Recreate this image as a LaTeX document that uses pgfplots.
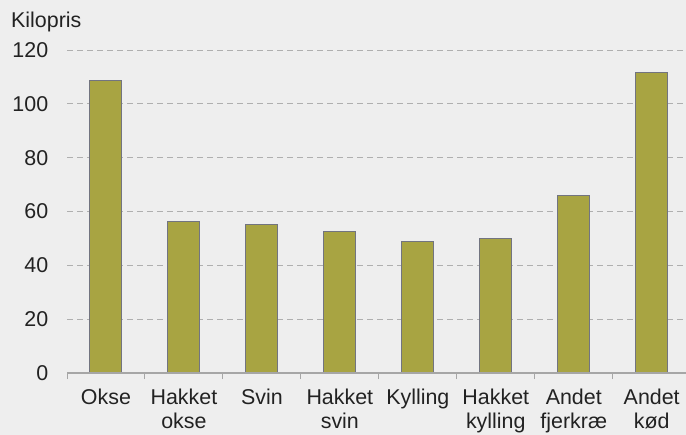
\documentclass[border=0pt]{standalone}
\usepackage{pgfplots}
\pgfplotsset{compat=1.18}
\usepackage{fontspec}
\setmainfont{Liberation Sans}
\definecolor{bgc}{HTML}{EEEEEE}
\definecolor{barc}{HTML}{A8A442}
\definecolor{edgec}{HTML}{727480}
\definecolor{gridc}{HTML}{AFAFAF}
\definecolor{axc}{HTML}{A6A6A6}
\definecolor{txt}{HTML}{222222}
\begin{document}
\begin{tikzpicture}
\fill[bgc] (0,0) rectangle (686bp,435bp);
\useasboundingbox (0,0) rectangle (686bp,435bp);
\node[anchor=base west, text=txt, font=\fontsize{21.5}{24}\selectfont, inner sep=0] at (11bp,407bp) {Kilopris};
\begin{axis}[
  at={(67bp,62bp)}, anchor=south west,
  scale only axis, width=619bp, height=323bp,
  xmin=-0.5, xmax=7.44, ymin=0, ymax=120,
  ytick={0,20,...,120},
  xtick={0,...,7},
  xticklabels={Okse,Hakket\\okse,Svin,Hakket\\svin,Kylling,Hakket\\kylling,Andet\\fjerkræ,Andet\\kød},
  minor xtick={-0.5,0.5,...,7.5},
  major x tick style={draw=none},
  minor x tick style={draw=axc, line width=1bp},
  minor tick length=6bp,
  tick align=outside,
  tick pos=bottom,
  ytick style={draw=none},
  axis line style={draw=none},
  ymajorgrids,
  grid style={gridc, dashed, dash pattern=on 6bp off 4bp, line width=0.8bp},
  ticklabel style={text=txt, font=\fontsize{21.5}{24.5}\selectfont},
  xticklabel style={align=center, anchor=north, yshift=-8bp},
  yticklabel style={anchor=east, xshift=-11bp},
  /pgf/number format/assume math mode=true,
  clip=false,
]
\addplot[ybar, bar width=32bp, fill=barc, draw=edgec, line width=1bp] coordinates {
(0,108.5) (1,56.1) (2,55.3) (3,52.4) (4,49.0) (5,50.1) (6,66.1) (7,111.8)};
\draw[axc, line width=1.2bp] (axis cs:-0.5,0) -- (axis cs:7.44,0);
\end{axis}
\end{tikzpicture}
\end{document}
